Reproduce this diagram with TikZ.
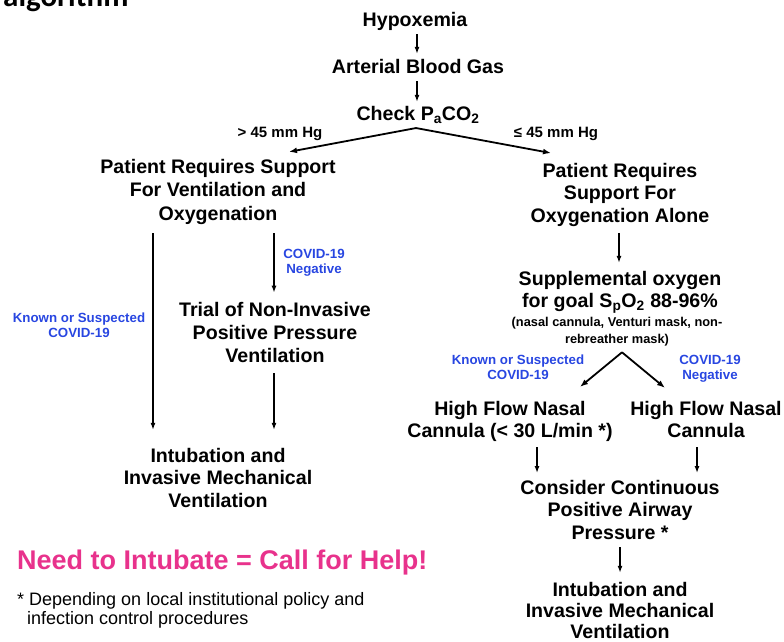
\documentclass[tikz,border=0pt]{standalone}
\usepackage{fontspec}
\setmainfont{Liberation Sans}
\newfontfamily\calibfont{Carlito}
\usetikzlibrary{arrows.meta,calc}
\definecolor{noteblue}{RGB}{40,70,225}
\definecolor{helppink}{RGB}{232,50,140}
\newcommand{\mlines}[1]{\begin{tabular}[t]{@{}c@{}}#1\end{tabular}}
\newcommand{\mlinesl}[1]{\begin{tabular}[t]{@{}l@{}}#1\end{tabular}}
\tikzset{
  mainbox/.style={inner sep=0pt, anchor=base, font=\bfseries\fontsize{19.6}{#1}\selectfont},
  mainbox/.default=22.8,
  bluenote/.style={inner sep=0pt, anchor=base, text=noteblue, font=\bfseries\fontsize{13.3}{15.5}\selectfont},
  smallnote/.style={inner sep=0pt, anchor=base, font=\bfseries\fontsize{12.8}{17}\selectfont},
  mmlabel/.style={inner sep=0pt, anchor=base, font=\bfseries\fontsize{15}{18}\selectfont},
  arr/.style={line width=1.5pt, -{Latex[length=7pt,width=5pt]}},
  branch/.style={line width=1.8pt, -{Latex[length=8pt,width=6pt]}},
}
\begin{document}
\begin{tikzpicture}[x=1pt,y=-1pt]
\useasboundingbox (0,0) rectangle (784,642);
% cut-off title
\node[inner sep=0pt, anchor=base west, font=\calibfont\bfseries\fontsize{31}{31}\selectfont] (title) at (3,7) {algorithm};

% top chain
\node[mainbox] (hyp) at (415,27) {\mlines{Hypoxemia}};
\node[mainbox] (abg) at (418,74) {\mlines{Arterial Blood Gas}};
\node[mainbox] (chk) at (418,120) {\mlines{Check P\textsubscript{a}CO\textsubscript{2}}};
\draw[arr] ($(hyp.south)+(2,0)$) -- ($(abg.north)+(-1,-4)$);
\draw[arr] ($(abg.south)+(-1,0)$) -- ($(chk.north)+(-1,-2)$);

\node[mmlabel] (gt) at (280,137) {> 45 mm Hg};
\node[mmlabel] (le) at (556,137) {≤ 45 mm Hg};

\node[mainbox=23.5] (lsup) at (218,173) {\mlines{Patient Requires Support\\For Ventilation and\\Oxygenation}};
\node[mainbox=22.5] (rsup) at (620,177) {\mlines{Patient Requires\\Support For\\Oxygenation Alone}};
\draw[branch] ($(chk.south)+(-2,1)$) -- ($(lsup.north)+(71,-4.5)$);
\draw[branch] ($(chk.south)+(-2,1)$) -- ($(rsup.north)+(-69,-8)$);

% left branch
\node[bluenote] (lknown) at (79,322) {\mlines{Known or Suspected\\COVID-19}};
\node[bluenote] (lneg) at (314,258) {\mlines{COVID-19\\Negative}};
\node[mainbox=23] (trial) at (275,316) {\mlines{Trial of Non-Invasive\\Positive Pressure\\Ventilation}};
\node[mainbox] (lint) at (218,462) {\mlines{Intubation and\\Invasive Mechanical\\Ventilation}};
\draw[arr] ($(lsup.south)+(-65,6)$) -- ($(lint.north)+(-65,-16)$);
\draw[arr] ($(lsup.south)+(56,6)$) -- ($(trial.north)+(-1,-7)$);
\draw[arr] ($(trial.south)+(-1,4)$) -- ($(lint.north)+(56,-16)$);

% right branch
\node[mainbox=22] (supp) at (620,285) {\mlines{Supplemental oxygen\\for goal S\textsubscript{p}O\textsubscript{2} 88-96\%}};
\node[smallnote] (paren) at (617,326) {\mlines{(nasal cannula, Venturi mask, non-\\rebreather mask)}};
\draw[arr] ($(rsup.south)+(-1,4)$) -- ($(supp.north)+(-1,-6.5)$);

\node[bluenote] (rknown) at (518,364) {\mlines{Known or Suspected\\COVID-19}};
\node[bluenote] (rneg) at (710,364) {\mlines{COVID-19\\Negative}};
\node[mainbox=22] (hfl) at (510,415) {\mlines{High Flow Nasal\\Cannula (< 30 L/min *)}};
\node[mainbox=22] (hfr) at (706,415) {\mlines{High Flow Nasal\\Cannula}};
\draw[branch] ($(paren.south)+(5,4)$) -- ($(hfl.north)+(70,-12.5)$);
\draw[branch] ($(paren.south)+(5,4)$) -- ($(hfr.north)+(-41,-11.5)$);

\node[mainbox=22.5] (cpap) at (620,494) {\mlines{Consider Continuous\\Positive Airway\\Pressure *}};
\node[mainbox=21] (rint) at (620,596) {\mlines{Intubation and\\Invasive Mechanical\\Ventilation}};
\draw[arr] ($(hfl.south)+(27,3.5)$) -- ($(cpap.north)+(-83,-5)$);
\draw[arr] ($(hfr.south)+(-9,3.5)$) -- ($(cpap.north)+(77,-5)$);
\draw[arr] ($(cpap.south)+(0,1.5)$) -- ($(rint.north)+(0,-8.3)$);

% footer
\node[inner sep=0pt, anchor=base west, text=helppink, font=\bfseries\fontsize{27}{30}\selectfont] (help) at (17,569) {Need to Intubate = Call for Help!};
\node[inner sep=0pt, anchor=base west, font=\fontsize{18}{19}\selectfont] (foot) at (17,605) {\mlinesl{* Depending on local institutional policy and\\\hspace*{10pt}infection control procedures}};
\end{tikzpicture}
\end{document}
